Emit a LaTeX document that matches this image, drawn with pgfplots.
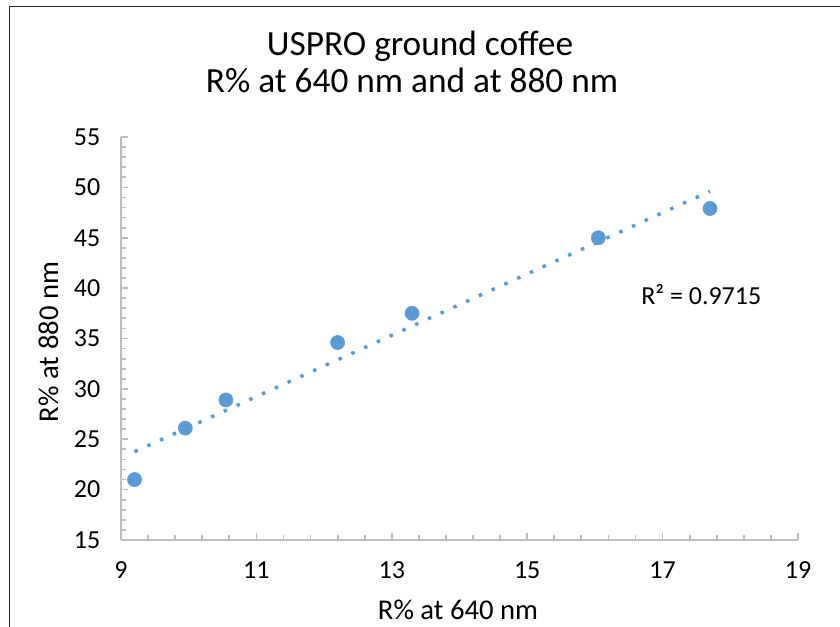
\documentclass[border=0pt]{standalone}
\usepackage{pgfplots}
\pgfplotsset{compat=1.18}
\usepackage{pgfplotstable}
\usepackage{fontspec}
\setmainfont{Carlito}
\definecolor{markblue}{HTML}{5B9BD5}
\definecolor{axgray}{HTML}{BFBFBF}

% R% at 640 nm vs R% at 880 nm
\pgfplotstableread{
x y
9.20 21.0
9.95 26.1
10.55 28.9
12.20 34.6
13.30 37.5
16.05 45.0
17.70 47.9
}\coffee

\begin{document}
\begin{tikzpicture}[x=0.75pt,y=0.75pt]
\path[use as bounding box] (0,0) rectangle (840,627);
\draw[line width=1.1pt, black!85] (9.5,0) -- (9.5,620.5) -- (840,620.5);
\begin{axis}[
  at={(90.75pt,65.25pt)}, anchor=south west,
  width=507.75pt, height=302.25pt, scale only axis,
  xmin=9, xmax=19, ymin=15, ymax=55,
  xtick={9,11,...,19}, ytick={15,20,...,55},
  minor x tick num=4, minor y tick num=4,
  axis x line*=bottom, axis y line*=left,
  axis line style={axgray, line width=1.3pt},
  every tick/.style={axgray, line width=1.3pt},
  every minor tick/.style={axgray, line width=1.3pt},
  tick align=inside,
  major tick length=5.25pt, minor tick length=3.5pt,
  tick label style={font=\fontsize{19.5}{23}\selectfont},
  xticklabel style={yshift=-13pt},
  yticklabel style={xshift=-12pt},
  /pgf/number format/assume math mode=true,
  clip=false,
]
\addplot[only marks, mark=*, mark size=5.3pt, color=markblue,
  mark options={draw=markblue, fill=markblue}] table[x=x, y=y] {\coffee};
\addplot[markblue, line width=2.6pt, line cap=butt,
  dash pattern=on 2.6pt off 7.9pt]
  table[x=x, y={create col/linear regression={y=y}}] {\coffee};
\end{axis}
\node[font=\fontsize{26.5}{31}\selectfont, anchor=base] at (420,571) {USPRO ground coffee};
\node[font=\fontsize{26.5}{31}\selectfont, anchor=base] at (412,534) {R\% at 640 nm and at 880 nm};
\node[font=\fontsize{21.5}{26}\selectfont, anchor=base] at (458,7) {R\% at 640 nm};
\node[font=\fontsize{21.5}{26}\selectfont, anchor=base, rotate=90] at (58,285) {R\% at 880 nm};
\node[font=\fontsize{19.5}{23}\selectfont, anchor=base west, inner sep=0pt] at (641,322) {R² = 0.9715};
\end{tikzpicture}
\end{document}
